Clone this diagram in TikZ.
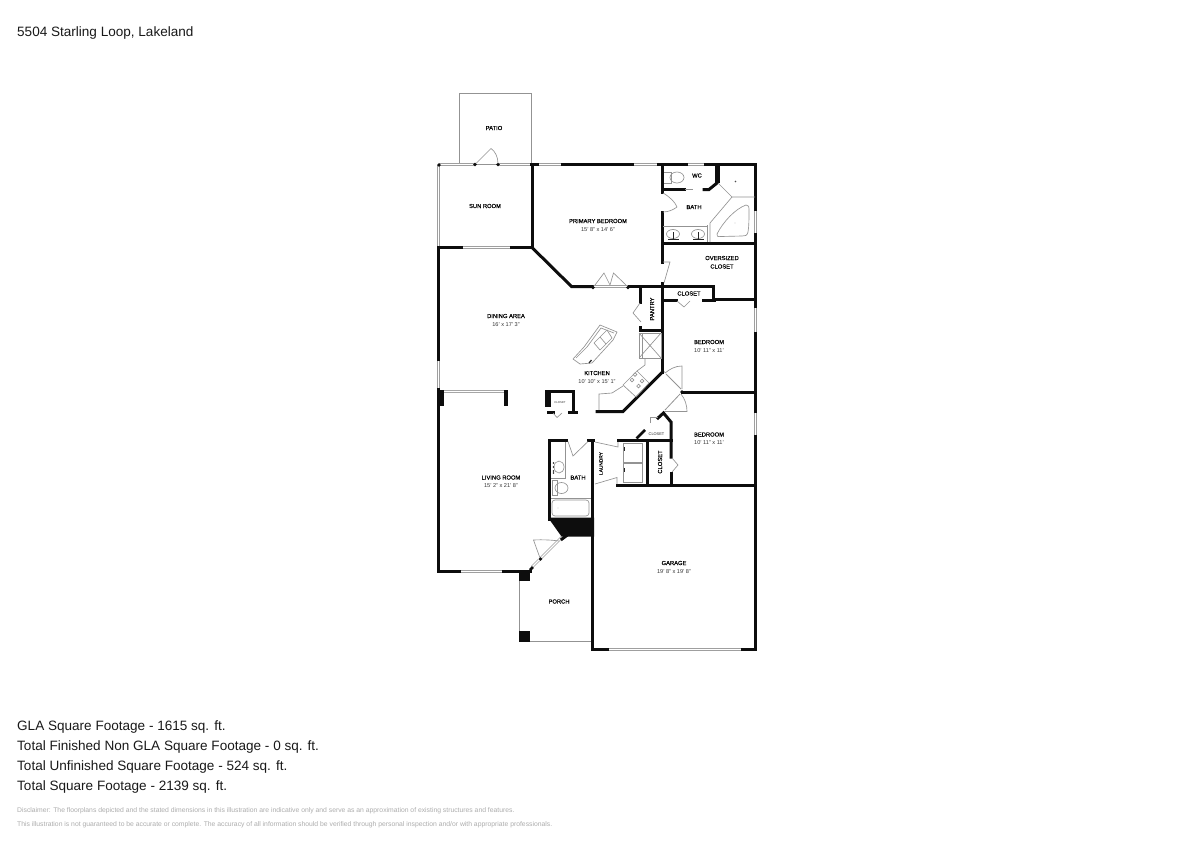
\documentclass[tikz,border=0pt]{standalone}
\usepackage{fontspec}
\setmainfont{Liberation Sans}
\newfontfamily\roomfont[FakeBold=0.25]{Liberation Sans}
\tikzset{
 wall/.style={line width=3pt,line cap=rect,line join=miter,black!95},
 thick wall/.style={line width=5pt,black!95},
 thin/.style={line width=.8pt,gray!85},
 fine/.style={line width=.65pt,gray!85},
 pier/.style={fill=black!95,draw=none},
 win/.style={line width=2.7pt,gray!75,postaction={draw=white,line width=1.1pt}},
 room/.style={inner sep=0pt,font=\roomfont\fontsize{5.8}{6.5}\selectfont,text=black,draw=none},
 dim/.style={inner sep=0pt,font=\fontsize{5.6}{6}\selectfont,text=black!80},
 note/.style={inner sep=0pt,anchor=base west,font=\fontsize{13.55}{14}\selectfont,text=black!90},
 fineprint/.style={inner sep=0pt,anchor=base west,font=\fontsize{6.8}{7}\selectfont,text=black!32}
}
\newcommand{\rlabel}[3]{\node[room] at (#1,#2) {#3};}
\newcommand{\dlabel}[3]{\node[dim] at (#1,#2) {#3};}
\begin{document}
\begin{tikzpicture}[x=1pt,y=-1pt]
\useasboundingbox (0,0) rectangle (1193,844);
\fill[white] (0,0) rectangle (1193,844);

% patio, porch outlines
\draw[thin] (459.5,163) -- (459.5,93.5) -- (531,93.5) -- (531,163);
\draw[thin] (519.5,572) -- (519.5,640);
\draw[thin] (525,641.8) -- (592,641.8);

% windows and openings
\draw[win] (438.5,164.5) -- (475,164.5);
\draw[win] (498,164.5) -- (531,164.5);
\draw[thin] (475,164.5) -- (498,164.5);
\draw[win] (538,164.5) -- (562,164.5);
\draw[win] (632,164.5) -- (658,164.5);
\draw[win] (686,164.5) -- (705,164.5);
\draw[win] (438.5,165) -- (438.5,247);
\draw[win] (462,247.5) -- (510,247.5);
\draw[win] (438.5,360) -- (438.5,388);
\draw[thin,gray!70] (443,390) -- (504,390) (443,392.6) -- (504,392.6);
\draw[win] (755.5,210) -- (755.5,233);
\draw[win] (755.5,307) -- (755.5,332);
\draw[win] (755.5,412) -- (755.5,435);
\draw[win] (460,571.5) -- (503,571.5);
\draw[win] (608,649.5) -- (741,649.5);
\draw[win] (593,286.5) -- (628,286.5);
\draw[win] (532,567) -- (539,560);
\draw[win] (541,558) -- (562,537);
\draw[thin] (666,374) -- (681,389);
\draw[thin] (665,410) -- (680,394);

% walls
\draw[wall] (531,164.5) -- (537,164.5);
\draw[wall] (562,164.5) -- (632,164.5);
\draw[wall] (658,164.5) -- (686,164.5);
\draw[wall] (705,164.5) -- (755.5,164.5) -- (755.5,209);
\draw[wall] (755.5,234) -- (755.5,306);
\draw[wall] (755.5,333) -- (755.5,411);
\draw[wall] (755.5,436) -- (755.5,649.5) -- (742,649.5);
\draw[wall] (607,649.5) -- (592.5,649.5) -- (592.5,536);
\draw[wall] (592.5,518) -- (592.5,441);
\draw[wall] (438.5,248) -- (438.5,359);
\draw[wall] (438.5,389) -- (438.5,571.5) -- (459,571.5);
\draw[wall] (503,571.5) -- (530,571.5);
\draw[wall] (438.5,247.5) -- (461,247.5);
\draw[wall] (511,247.5) -- (532,247.5) -- (532,165);
\draw[wall] (532,247.5) -- (571.5,286.5) -- (592,286.5);
\draw[wall] (629,286.5) -- (662.5,286.5);
% bath / closet block
\draw[wall] (662.5,165) -- (662.5,192);
\draw[wall] (662.5,212) -- (662.5,262);
\draw[wall] (662.5,283) -- (662.5,372);
\draw[wall] (663,189.5) -- (684,189.5);
\draw[thick wall] (717,164.5) -- (717,183);
\draw[wall] (704,189.5) -- (709,189.5) -- (717,183);
\draw[wall] (663,243.5) -- (755,243.5);
\draw[wall] (663,286.5) -- (713.5,286.5) -- (713.5,299.5);
\draw[wall] (713.5,299.5) -- (755,299.5);
\draw[wall] (663,300) -- (676,300);
\draw[wall] (703,300) -- (714,300);
% pantry, fridge
\draw[wall] (640.5,287) -- (640.5,302);
\draw[wall] (640.5,330.5) -- (662,330.5);
\draw[wall] (640.5,330.5) -- (640.5,327);
% diagonal kitchen wall
\draw[wall] (662.5,372) -- (623,411.5) -- (597,411.5);
% bedroom divider
\draw[wall] (682,392) -- (755,392);
\draw[wall] (658,418) -- (663.5,413) -- (671,422) -- (671,457);
\draw[wall] (671,473) -- (671,485);
\draw[wall] (617,485) -- (755,485);
% hall / closet top
\draw[wall] (618,440.5) -- (671,440.5);
\draw[wall] (647.5,441) -- (647.5,485);
\draw[line width=2.8pt,black!95] (636.5,438.5) -- (645,430);
% bath
\draw[wall] (566,440.5) -- (549.5,440.5) -- (549.5,519);
\draw[wall] (588,440.5) -- (593,440.5);
% small closet
\draw[wall] (546,391.5) -- (573,391.5) -- (573,412);
\draw[wall] (569,412) -- (576,412);
\draw[wall] (548,412) -- (553,412);
\fill[black!95] (544.5,390) rectangle (550.5,407);
% piers
\fill[pier] (438,390) rectangle (443.5,406);
\fill[pier] (504,390) rectangle (508,406);
\fill[pier] (519,570.5) rectangle (529.5,580.5);
\fill[pier] (519,631) rectangle (529.5,642);
\fill[pier] (548,517.5) -- (594,517.5) -- (594,536.5) -- (565,536.5) -- (561.5,536.5) -- cycle;
\draw[wall] (566,536) -- (562,539);
\draw[line width=2.8pt,black!95] (530,570) -- (533,567);
% posts
\foreach \p in {(475,164.5),(498,164.5),(593,287.5),(628,287.5),(682,392),(540.5,559),(439,165)}
  \fill[black!95] \p circle (1.8pt);

% doors
\draw[fine] (476,163.5) -- (491,148.5) .. controls (495,151) and (498,157) .. (498,163.5);
\draw[fine] (595,285) -- (604,273) -- (610,285) (610,285) -- (613.5,273) -- (626,285);
\draw[fine] (663,193) .. controls (670,197) and (675,202) .. (677,207) .. controls (673,210) and (668,212) .. (663,212);
\draw[fine] (663,262) -- (670,262) -- (664,283);
\draw[fine] (677,301) -- (684,307) -- (690,301);
\draw[fine] (640,303) -- (633,313) -- (641,322);
\draw[fine] (553,413) -- (557,417.5) -- (562,413);
\draw[fine] (568,441.5) -- (573,456) -- (588,441.5);
\draw[fine] (595,442) -- (618,447) -- (618,442);
\draw[fine] (595,484) -- (617,477.5) -- (617,484);
\draw[fine] (672,458) -- (678,465) -- (672,472);
\draw[fine] (650,423) -- (650,417) -- (658,417);
\draw[fine] (682,389) -- (682,366) .. controls (675,366) and (670,369) .. (665,373);
\draw[fine] (664,411.5) -- (687,411.5) .. controls (687,405) and (685,399) .. (681,394);
\draw[fine] (540,558) -- (533.5,540) .. controls (543,539.5) and (552,540) .. (559,541);

% WC and bath fixtures
\draw[thin] (685,189.5) -- (693,189.5);
\draw[fine] (718,183) -- (732,197) -- (755,197);
\draw[fine] (732,197) -- (710,223) -- (710,242);
\draw[fine] (707.5,225) -- (707.5,242);
\draw[fine] (663,226.5) -- (707.5,226.5);
\draw[fine] (717,234) .. controls (723,222) and (735,209) .. (746,205) .. controls (749,205) and (749,207) .. (749,209) .. controls (749,218) and (749,226) .. (748,232) .. controls (747,236) and (745,236) .. (742,236) -- (721,236.5) .. controls (718,237) and (716,236) .. (717,234) -- cycle;
\fill[black!70] (735.5,181.5) circle (.8pt);
\fill[gray] (735,223) circle (.4pt);
\draw[fine] (664,172) -- (671,172) -- (671,183) -- (664,183);
\draw[fine] (677,177.5) ellipse (7 and 5.5);
\draw[fine] (673,234) ellipse (6.5 and 4.5);
\draw[fine] (698,234) ellipse (6.5 and 4.5);
\foreach \sx in {673,698} {
  \draw[line width=1.2pt,black!85] (\sx-5,239.5) -- (\sx+6,239.5);
  \draw[line width=.6pt,black!85] (\sx,232) -- (\sx,239.5);
}
% fridge
\draw[thin] (639,333) rectangle (661,358);
\draw[fine] (639,333) -- (661,358) (661,333) -- (639,358);
\draw[fine] (642,333) -- (642,358);
% kitchen counter
\draw[fine] (645,358.5) -- (645,365) -- (637,371);
\draw[fine] (623,386) -- (612,393) -- (599,394) -- (599,410);
\draw[fine] (623,385) -- (637,371) -- (649,383) -- (636,397) -- cycle;
\foreach \q in {(632,380),(638.5,386),(635,374.5),(642,381)}
  \draw[fine] \q circle (1.8pt);
% island
\draw[fine] (573,359) -- (584,347) -- (600,325) -- (617,332) -- (613,340) -- (592,363) -- (580,364) -- cycle;
\draw[fine] (576,358) -- (587,347) -- (601,328) -- (614,333);
\draw[fine] (594,343) -- (607,330) -- (612,338) -- (600,350) -- cycle;
\draw[fine] (600,337) -- (606,344);
\draw[line width=1.2pt,black!85] (589,363) -- (591.5,360);
% laundry
\draw[thin] (623,443) rectangle (642.5,462);
\draw[thin] (623,463.5) rectangle (642.5,482);
\draw[line width=1pt,black!85] (624,447) -- (624,450.5) (624,468) -- (624,471.5);
% hall bath
\draw[fine] (565,441.5) -- (565,478) -- (551,478);
\draw[fine] (559,467) ellipse (5 and 6);
\foreach \dy in {463,467,471,473}
  \fill[black!85] (553.5,\dy) circle (.9pt);
\draw[fine] (552,480.5) rectangle (557.5,495);
\draw[fine] (561.5,488) ellipse (6.5 and 5.5);
\draw[fine] (551,498) -- (591,498);
\draw[fine,rounded corners=3pt] (552,500) rectangle (589,516);
\fill[gray] (558,508) circle (.4pt);

% labels
\node[note] (title) at (17,36) {5504 Starling Loop, Lakeland};
\rlabel{494}{128}{PATIO}
\rlabel{485}{206}{SUN ROOM}
\rlabel{598}{221}{PRIMARY BEDROOM}
\dlabel{598}{229.5}{15' 8" x 14' 6"}
\rlabel{697}{175.5}{WC}
\rlabel{694}{207}{BATH}
\rlabel{722}{258}{OVERSIZED}
\rlabel{722}{266.5}{CLOSET}
\rlabel{689}{293.5}{CLOSET}
\node[room,rotate=90] at (652,309) {PANTRY};
\rlabel{506}{316}{DINING AREA}
\dlabel{506}{324.5}{16' x 17' 3"}
\rlabel{709}{342}{BEDROOM}
\dlabel{709}{350.5}{10' 11" x 11'}
\rlabel{597}{373}{KITCHEN}
\dlabel{597}{382}{10' 10" x 15' 1"}
\node[inner sep=0pt,font=\fontsize{2.8}{3}\selectfont,text=black!80] at (560,403) {CLOSET};
\node[inner sep=0pt,font=\fontsize{3.9}{4}\selectfont,text=black!85] at (656.5,434) {CLOSET};
\rlabel{709}{434.5}{BEDROOM}
\dlabel{709}{443}{10' 11" x 11'}
\node[room,rotate=90,font=\roomfont\fontsize{5.8}{7}\selectfont] at (660,462) {CLOSET};
\node[room,rotate=90,font=\roomfont\fontsize{4.8}{5}\selectfont] at (601,463.5) {LAUNDRY};
\rlabel{578}{477.5}{BATH}
\rlabel{501}{477.5}{LIVING ROOM}
\dlabel{501}{486}{15' 2" x 21' 8"}
\rlabel{674}{563}{GARAGE}
\dlabel{674}{571.5}{19' 8" x 19' 8"}
\rlabel{559}{601.5}{PORCH}

\node[note] (gla) at (17,730) {GLA Square Footage - 1615 sq. ft.};
\node[note] (nongla) at (17,750) {Total Finished Non GLA Square Footage - 0 sq. ft.};
\node[note] (unf) at (17,770) {Total Unfinished Square Footage - 524 sq. ft.};
\node[note] (total) at (17,790) {Total Square Footage - 2139 sq. ft.};
\node[fineprint] (disc) at (17,812) {Disclaimer: The floorplans depicted and the stated dimensions in this illustration are indicative only and serve as an approximation of existing structures and features.};
\node[fineprint] (acc) at (17,826) {This illustration is not guaranteed to be accurate or complete. The accuracy of all information should be verified through personal inspection and/or with appropriate professionals.};
\end{tikzpicture}
\end{document}
